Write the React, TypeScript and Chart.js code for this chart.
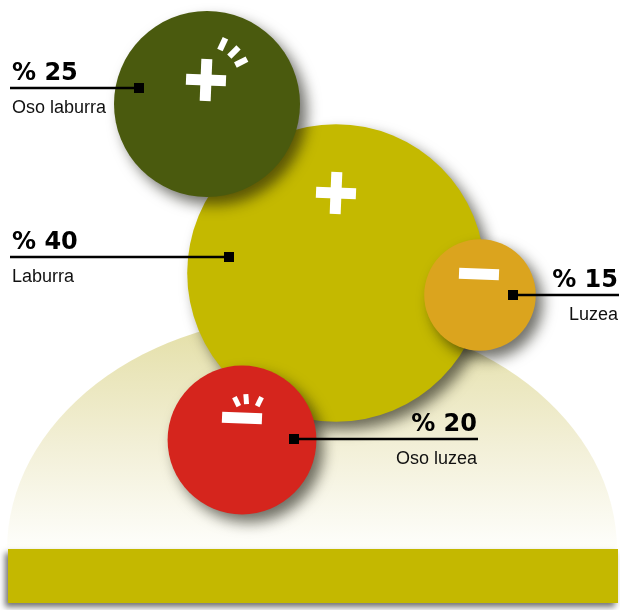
import React, { useEffect, useRef } from 'react';
import { Chart, registerables } from 'chart.js';

Chart.register(...registerables);

// ---- data ----
const categories = ['Laburra', 'Oso laburra', 'Luzea', 'Oso luzea'];
const percentages = [40, 25, 15, 20];
const valueLabels = ['% 40', '% 25', '% 15', '% 20'];
const signs = ['plus', 'plus', 'minus', 'minus'];
const withRays = [false, true, false, true];

// ---- styles & layout ----
const colors = ['#c4b900', '#4a5a0e', '#dba41e', '#d5251d'];
const LAYOUT = {
  cx: [336, 207, 480, 242],
  cy: [273, 104, 295, 440],
  radiusPerPercent: 3.72,
  signDx: [0, -1, -1, 0],
  signDy: [-80, -24, -21, -22],
  markerDx: [-107, -68, 33, 52],
  markerDy: [-16, -16, 0, -1],
  side: ['left', 'left', 'right', 'right'],
  anchorX: [10, 10, 619, 478],
};

const decorPlugin = {
  id: 'decor',
  beforeDatasetsDraw(chart: any) {
    const ctx = chart.ctx as CanvasRenderingContext2D;
    // hemisphere background
    ctx.save();
    const g = ctx.createLinearGradient(0, 315, 0, 548);
    g.addColorStop(0, '#e3dea4');
    g.addColorStop(0.55, '#f2efd6');
    g.addColorStop(1, '#fefefb');
    ctx.fillStyle = g;
    ctx.beginPath();
    ctx.ellipse(312, 550, 305, 235, 0, Math.PI, 2 * Math.PI);
    ctx.closePath();
    ctx.fill();
    ctx.restore();
    // bottom bar
    ctx.save();
    ctx.shadowColor = 'rgba(0,0,0,0.55)';
    ctx.shadowBlur = 6;
    ctx.shadowOffsetX = -3;
    ctx.shadowOffsetY = 4;
    ctx.fillStyle = '#c4b800';
    ctx.fillRect(8, 549, 610, 54);
    ctx.restore();
    // shadows for bubbles
    ctx.save();
    ctx.shadowColor = 'rgba(20,20,10,0.6)';
    ctx.shadowBlur = 14;
    ctx.shadowOffsetX = 7;
    ctx.shadowOffsetY = 8;
  },
  afterDatasetsDraw(chart: any) {
    const ctx = chart.ctx as CanvasRenderingContext2D;
    ctx.restore();
    const meta = chart.getDatasetMeta(0);
    meta.data.forEach((el: any, i: number) => {
      const x = el.x;
      const y = el.y;
      // sign
      const sx = x + LAYOUT.signDx[i];
      const sy = y + LAYOUT.signDy[i];
      ctx.save();
      ctx.fillStyle = '#ffffff';
      ctx.translate(sx, sy);
      ctx.rotate(0.04);
      ctx.fillRect(-20, -5.5, 40, 11);
      if (signs[i] === 'plus') ctx.fillRect(-5.5, -21, 11, 42);
      ctx.restore();
      if (withRays[i]) {
        ctx.save();
        ctx.strokeStyle = '#ffffff';
        ctx.lineCap = 'butt';
        if (signs[i] === 'plus') {
          const angles = [-65, -45, -27];
          ctx.lineWidth = 6;
          angles.forEach((a) => {
            const r = (a * Math.PI) / 180;
            ctx.beginPath();
            ctx.moveTo(sx + Math.cos(r) * 33, sy + Math.sin(r) * 33);
            ctx.lineTo(sx + Math.cos(r) * 46, sy + Math.sin(r) * 46);
            ctx.stroke();
          });
        } else {
          const fx = sx + 6;
          const fy = sy + 7;
          const angles = [-116, -94, -64];
          ctx.lineWidth = 5;
          angles.forEach((a) => {
            const r = (a * Math.PI) / 180;
            ctx.beginPath();
            ctx.moveTo(fx + Math.cos(r) * 21, fy + Math.sin(r) * 21);
            ctx.lineTo(fx + Math.cos(r) * 31, fy + Math.sin(r) * 31);
            ctx.stroke();
          });
        }
        ctx.restore();
      }
      // leader line, marker, labels
      const mx = x + LAYOUT.markerDx[i];
      const my = y + LAYOUT.markerDy[i];
      const ax = LAYOUT.anchorX[i];
      ctx.save();
      ctx.strokeStyle = '#000';
      ctx.lineWidth = 2.5;
      ctx.beginPath();
      ctx.moveTo(ax, my);
      ctx.lineTo(mx, my);
      ctx.stroke();
      ctx.fillStyle = '#000';
      ctx.fillRect(mx - 5, my - 5, 10, 10);
      const left = LAYOUT.side[i] === 'left';
      ctx.textAlign = left ? 'left' : 'right';
      ctx.textBaseline = 'alphabetic';
      const tx = left ? ax + 2 : ax - 1;
      ctx.font = 'bold 24px "DejaVu Sans"';
      ctx.fillText(valueLabels[i], tx, my - 8);
      ctx.font = '18px "Liberation Sans"';
      ctx.fillStyle = '#111';
      ctx.fillText(categories[i], tx, my + 25);
      ctx.restore();
    });
  },
};

export default function App() {
  const ref = useRef<HTMLCanvasElement | null>(null);
  useEffect(() => {
    if (!ref.current) return;
    const chart = new Chart(ref.current, {
      type: 'bubble',
      data: {
        labels: categories,
        datasets: [
          {
            label: 'Iraupena',
            data: categories.map((_, i) => ({
              x: LAYOUT.cx[i],
              y: LAYOUT.cy[i],
              r: percentages[i] * LAYOUT.radiusPerPercent,
            })),
            backgroundColor: colors,
            hoverBackgroundColor: colors,
            borderWidth: 0,
            hoverBorderWidth: 0,
            hoverRadius: 0,
            clip: false,
          } as any,
        ],
      },
      options: {
        responsive: false,
        animation: false,
        events: [],
        layout: { padding: 0, autoPadding: false },
        scales: {
          x: { type: 'linear', min: 0, max: 620, display: false },
          y: { type: 'linear', min: 0, max: 610, reverse: true, display: false },
        },
        plugins: { legend: { display: false }, tooltip: { enabled: false } },
      },
      plugins: [decorPlugin],
    });
    return () => chart.destroy();
  }, []);
  return (
    <div style={{ position: 'absolute', left: 0, top: 0, width: 620, height: 610, background: '#fff' }}>
      <canvas ref={ref} width={620} height={610} style={{ display: 'block' }} />
    </div>
  );
}
